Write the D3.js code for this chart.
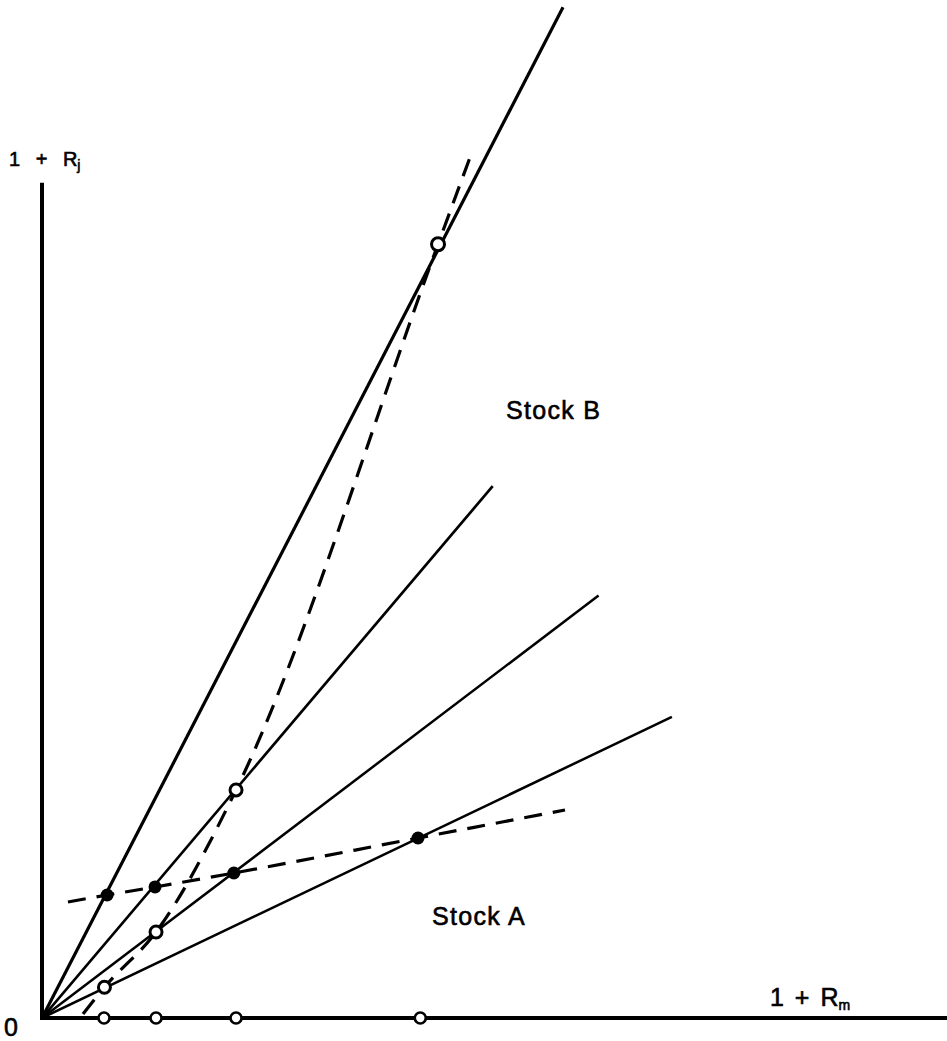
<!DOCTYPE html>
<html>
<head>
<meta charset="utf-8">
<script src="https://cdn.jsdelivr.net/npm/d3@7"></script>
<style>
  html, body { margin: 0; padding: 0; background: #fff; }
  svg { display: block; }
  text { font-family: "Liberation Sans", Arial, sans-serif; fill: #000; }
</style>
</head>
<body>
<div id="chart"></div>
<script>
// rays through the origin (slope and where each one stops)
const raySlopes = [1.94, 1.18, 0.759, 0.478]
const rayEnds = [5.757, 4.98, 6.15, 6.96]
const rayWidths = [3.2, 2.7, 2.5, 2.5]

// market returns marked on the x axis
const marketX = [0.685, 1.26, 2.144, 4.18]

// stock A (filled dots) and stock B (open circles)
const stockAX = [0.72, 1.249, 2.12, 4.155]
const stockAY = [1.359, 1.448, 1.602, 1.989]
const stockBX = [0.69, 1.26, 2.144, 4.376]
const stockBY = [0.34, 0.95, 2.52, 8.55]

// dashed characteristic lines
const dashAX = [0.287, 0.72, 1.249, 2.12, 4.155, 5.779]
const dashAY = [1.282, 1.359, 1.448, 1.602, 1.989, 2.298]
const dashBX = [0.453, 0.69, 1.26, 2.144, 4.376, 4.751]
const dashBY = [0.044, 0.34, 0.95, 2.52, 8.55, 9.569]

const yAxisTop = 9.23

const width = 947, height = 1041

var svg = d3.select('#chart').append('svg')
    .attr('width', width)
    .attr('height', height)

const x = d3.scaleLinear().domain([0, 10]).range([42, 947])
const y = d3.scaleLinear().domain([0, 10]).range([1018, 113])

// axes
svg.append('line')
    .attr('x1', x(0)).attr('y1', y(0) + 2)
    .attr('x2', x(0)).attr('y2', y(yAxisTop))
    .attr('stroke', '#000').attr('stroke-width', 4)
svg.append('line')
    .attr('x1', x(0) - 2).attr('y1', y(0))
    .attr('x2', x(10)).attr('y2', y(0))
    .attr('stroke', '#000').attr('stroke-width', 3.8)

// solid rays
var rays = raySlopes.map((s, i) => ({ slope: s, end: rayEnds[i], w: rayWidths[i] }))
svg.append('g').selectAll('line')
    .data(rays)
    .enter()
    .append('line')
    .attr('x1', x(0)).attr('y1', y(0))
    .attr('x2', d => x(d.end))
    .attr('y2', d => y(d.end * d.slope))
    .attr('stroke', '#000')
    .attr('stroke-width', d => d.w)

// dashed lines
var dashLine = d3.line().x(d => x(d[0])).y(d => y(d[1])).curve(d3.curveMonotoneX)
var dashes = [d3.zip(dashAX, dashAY), d3.zip(dashBX, dashBY)]
svg.append('g').selectAll('path')
    .data(dashes)
    .enter()
    .append('path')
    .attr('d', dashLine)
    .attr('fill', 'none')
    .attr('stroke', '#000')
    .attr('stroke-width', 3.2)
    .attr('stroke-dasharray', '18,11')

// circles on the x axis
svg.append('g').selectAll('circle')
    .data(marketX)
    .enter()
    .append('circle')
    .attr('cx', d => x(d)).attr('cy', y(0))
    .attr('r', 5.5)
    .attr('fill', '#fff').attr('stroke', '#000').attr('stroke-width', 2.6)

// stock B open circles
svg.append('g').selectAll('circle')
    .data(d3.zip(stockBX, stockBY))
    .enter()
    .append('circle')
    .attr('cx', d => x(d[0])).attr('cy', d => y(d[1]))
    .attr('r', (d, i) => i == 3 ? 6.5 : 6)
    .attr('fill', '#fff').attr('stroke', '#000').attr('stroke-width', 3)

// stock A filled dots
svg.append('g').selectAll('circle')
    .data(d3.zip(stockAX, stockAY))
    .enter()
    .append('circle')
    .attr('cx', d => x(d[0])).attr('cy', d => y(d[1]))
    .attr('r', 6.5)
    .attr('fill', '#000')

// labels
function label(px, py, size, main, sub, subSize, spacing) {
    var t = svg.append('text')
        .attr('x', px).attr('y', py)
        .attr('font-size', size)
        .attr('word-spacing', spacing)
        .attr('stroke', '#000').attr('stroke-width', 0.6)
    t.append('tspan').text(main)
    if (sub) t.append('tspan').attr('font-size', subSize).attr('dy', 4).text(sub)
    return t
}

label(9, 166, 20, '1 + R', 'j', 14, 10)
label(770, 1006, 25, '1 + R', 'm', 14, 4)
label(4, 1036, 25, '0')

svg.append('text').attr('x', 506).attr('y', 419)
    .attr('font-size', 25).attr('letter-spacing', 1.3)
    .attr('stroke', '#000').attr('stroke-width', 0.6)
    .text('Stock B')
svg.append('text').attr('x', 432).attr('y', 925)
    .attr('font-size', 25).attr('letter-spacing', 1.3)
    .attr('stroke', '#000').attr('stroke-width', 0.6)
    .text('Stock A')
</script>
</body>
</html>
